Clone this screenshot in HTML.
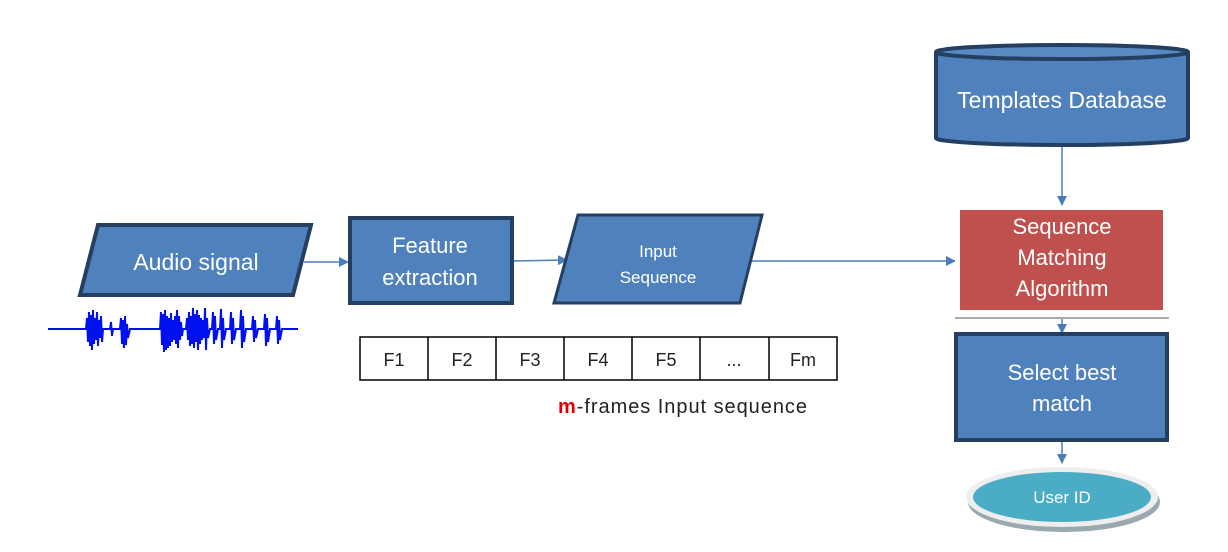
<!DOCTYPE html>
<html><head><meta charset="utf-8"><style>
html,body{margin:0;padding:0;background:#fff;}
svg{display:block;}
text{font-family:"Liberation Sans","DejaVu Sans",sans-serif;}
</style></head><body>
<svg width="1228" height="552" viewBox="0 0 1228 552" xmlns="http://www.w3.org/2000/svg">
<defs>
<marker id="ar" markerWidth="10" markerHeight="10" refX="9" refY="5" orient="auto" markerUnits="userSpaceOnUse">
<path d="M0,0 L10,5 L0,10 z" fill="#4a7ebb"/></marker>
</defs>
<g stroke="#4a7ebb" stroke-width="1.5" fill="none">
<line x1="304" y1="262" x2="348" y2="262" marker-end="url(#ar)"/>
<line x1="512" y1="261" x2="567" y2="260" marker-end="url(#ar)"/>
<line x1="752" y1="261" x2="955" y2="261" marker-end="url(#ar)"/>
<line x1="1062" y1="147" x2="1062" y2="205" marker-end="url(#ar)"/>
<line x1="1062" y1="313" x2="1062" y2="333" marker-end="url(#ar)"/>
<line x1="1062" y1="442" x2="1062" y2="463" marker-end="url(#ar)"/>
</g>
<polygon points="98,225 311,225 293,295 80,295" fill="#4f81bd" stroke="#243f60" stroke-width="4"/>
<text x="196" y="270" font-size="23" fill="#fff" text-anchor="middle">Audio signal</text>
<rect x="350" y="218" width="162" height="85" fill="#4f81bd" stroke="#243f60" stroke-width="4"/>
<text x="430" y="253" font-size="22" fill="#fff" text-anchor="middle">Feature</text>
<text x="430" y="285" font-size="22" fill="#fff" text-anchor="middle">extraction</text>
<polygon points="578,215 762,215 740,303 554,303" fill="#4f81bd" stroke="#243f60" stroke-width="3"/>
<text x="658" y="257" font-size="17" fill="#fff" text-anchor="middle">Input</text>
<text x="658" y="283" font-size="17" fill="#fff" text-anchor="middle">Sequence</text>
<g stroke="#000" stroke-width="1.5" fill="#fff">
<rect x="360" y="337" width="477" height="43"/>
<line x1="428" y1="337" x2="428" y2="380"/><line x1="496" y1="337" x2="496" y2="380"/>
<line x1="564" y1="337" x2="564" y2="380"/><line x1="632" y1="337" x2="632" y2="380"/>
<line x1="700" y1="337" x2="700" y2="380"/><line x1="769" y1="337" x2="769" y2="380"/>
</g>
<g font-size="18" fill="#222" text-anchor="middle">
<text x="394" y="366">F1</text><text x="462" y="366">F2</text><text x="530" y="366">F3</text>
<text x="598" y="366">F4</text><text x="666" y="366">F5</text><text x="734" y="366">...</text><text x="803" y="366">Fm</text>
</g>
<text x="558" y="413" font-size="20" fill="#222" textLength="249"><tspan fill="#e00000" font-weight="bold">m</tspan>-frames Input sequence</text>
<path fill="none" stroke="#0010ee" stroke-width="2" d="M48,329 L86,329 L87,318 L88,342 L89,312 L90,346 L91,315 L92,350 L93,310 L94,344 L95,318 L96,340 L97,312 L98,346 L99,320 L100,338 L101,316 L102,342 L103,329 L110,329 L111,322 L112,336 L113,329 L120,329 L121,318 L122,344 L123,320 L124,348 L125,316 L126,345 L127,324 L128,338 L130,329 L160,329 L161,312 L162,345 L163,314 L164,352 L165,310 L166,350 L167,316 L168,348 L169,318 L170,346 L171,313 L172,342 L173,320 L174,340 L175,316 L176,344 L177,310 L178,348 L179,316 L180,340 L181,322 L182,336 L183,329 L186,329 L187,318 L188,340 L189,312 L190,346 L191,316 L192,344 L193,308 L194,348 L195,314 L196,342 L197,310 L198,350 L199,315 L200,344 L201,318 L202,340 L203,320 L204,338 L205,308 L206,350 L207,318 L208,338 L210,329 L212,329 L213,312 L214,344 L215,316 L216,340 L218,329 L220,329 L221,309 L222,348 L223,318 L224,340 L226,329 L230,329 L231,312 L232,344 L233,318 L234,340 L236,329 L240,329 L241,310 L242,348 L243,316 L244,342 L246,329 L252,329 L253,316 L254,342 L255,320 L256,338 L258,329 L264,329 L265,314 L266,346 L267,318 L268,342 L270,329 L276,329 L277,316 L278,344 L279,320 L280,340 L282,329 L298,329"/>
<path d="M936,52 L936,138 A126,7 0 0 0 1188,138 L1188,52" fill="#4f81bd" stroke="#243f60" stroke-width="4"/>
<ellipse cx="1062" cy="52" rx="126" ry="7" fill="#5a8ac4" stroke="#243f60" stroke-width="4"/>
<text x="1062" y="108" font-size="23" fill="#fff" text-anchor="middle">Templates Database</text>
<rect x="955" y="207" width="214" height="111" fill="#fff"/>
<line x1="955" y1="318" x2="1169" y2="318" stroke="#aaa" stroke-width="2"/>
<rect x="960" y="210" width="203" height="100" fill="#c0504d"/>
<text x="1062" y="234" font-size="22" fill="#fff" text-anchor="middle">Sequence</text>
<text x="1062" y="265" font-size="22" fill="#fff" text-anchor="middle">Matching</text>
<text x="1062" y="296" font-size="22" fill="#fff" text-anchor="middle">Algorithm</text>
<rect x="956" y="334" width="211" height="106" fill="#4f81bd" stroke="#243f60" stroke-width="4"/>
<text x="1062" y="380" font-size="22" fill="#fff" text-anchor="middle">Select best</text>
<text x="1062" y="411" font-size="22" fill="#fff" text-anchor="middle">match</text>
<ellipse cx="1064" cy="502" rx="96" ry="30" fill="#9aa8b0"/>
<ellipse cx="1062" cy="497" rx="96" ry="30" fill="#eeeeee"/>
<ellipse cx="1062" cy="497" rx="89" ry="25" fill="#4bacc6"/>
<text x="1062" y="503" font-size="17" fill="#fff" text-anchor="middle">User ID</text>
</svg>
</body></html>
